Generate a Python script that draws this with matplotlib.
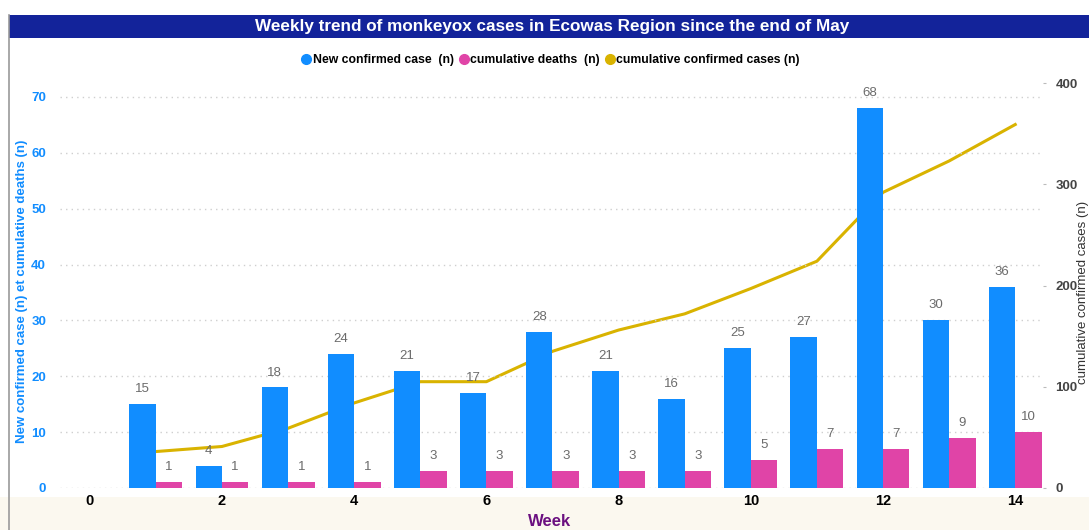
import matplotlib
matplotlib.use("Agg")
import matplotlib.pyplot as plt
import numpy as np
from matplotlib.lines import Line2D
from matplotlib.patches import Rectangle

weeks = list(range(1, 15))
new_cases = [15, 4, 18, 24, 21, 17, 28, 21, 16, 25, 27, 68, 30, 36]
cum_deaths = [1, 1, 1, 1, 3, 3, 3, 3, 3, 5, 7, 7, 9, 10]
cum_confirmed = [36, 41, 59, 84, 105, 105, 135, 156, 172, 197, 224, 292, 323, 359]
x_ticks = [0, 2, 4, 6, 8, 10, 12, 14]
left_ticks = [0, 10, 20, 30, 40, 50, 60, 70]
right_ticks = [0, 100, 200, 300, 400]

BLUE = "#118DFF"
PINK = "#E044A7"
GOLD = "#D9B300"
FONT = ["Liberation Sans", "DejaVu Sans"]
plt.rcParams["font.family"] = FONT

fig = plt.figure(figsize=(10.89, 5.30), dpi=100)
fig.patch.set_facecolor("white")

# bottom cream strip
fig.patches.append(Rectangle((0, 0), 1, 33 / 530, transform=fig.transFigure,
                             facecolor="#FBF8EF", edgecolor="none", zorder=0))
# left border line
fig.add_artist(Line2D([9 / 1089, 9 / 1089], [0, 1 - 15 / 530], transform=fig.transFigure,
                      color="#9a9a9a", lw=1.2))
# title bar
fig.patches.append(Rectangle((9 / 1089, 1 - 38 / 530), 1, 23 / 530, transform=fig.transFigure,
                             facecolor="#13239A", edgecolor="none", zorder=1))
fig.text(552 / 1089, 1 - 27 / 530, "Weekly trend of monkeyox cases in Ecowas Region since the end of May",
         color="white", fontsize=12.3, fontweight="bold", ha="center", va="center")

ax = fig.add_axes([60 / 1089, 42 / 530, 983 / 1089, 405 / 530])
ax2 = ax.twinx()

w = 0.4
xs = np.array(weeks)
ax.bar(xs - w / 2, new_cases, width=w, color=BLUE, zorder=2)
ax.bar(xs + w / 2, cum_deaths, width=w, color=PINK, zorder=2)

for x, v in zip(xs, new_cases):
    ax.text(x - w / 2, v + 1.6, str(v), ha="center", va="bottom", fontsize=9.5,
            color="#6b6b6b", zorder=5)
for x, v in zip(xs, cum_deaths):
    ax.text(x + w / 2, v + 1.6, str(v), ha="center", va="bottom", fontsize=9.5,
            color="#6b6b6b", zorder=5)

ax2.plot(xs, cum_confirmed, color=GOLD, lw=2.2, zorder=3)

ax.set_xlim(-0.45, 14.42)
ax.set_ylim(0, 72.5)
ax2.set_ylim(0, 400)
ax.set_yticks(left_ticks)
ax2.set_yticks(right_ticks)
ax.set_xticks(x_ticks)
ax.set_xticklabels([str(t) for t in x_ticks], fontsize=10.5, fontweight="bold", color="black")
ax.set_yticklabels([str(t) for t in left_ticks], fontsize=9.5, fontweight="bold", color=BLUE)
ax2.set_yticklabels([str(t) for t in right_ticks], fontsize=9.5, fontweight="bold", color="#444444")

ax.grid(axis="y", color="#cfcfcf", linestyle=(0, (1, 3)), lw=1, zorder=0)
ax.set_axisbelow(True)
for a in (ax, ax2):
    for s in a.spines.values():
        s.set_visible(False)
ax.tick_params(axis="y", length=0, pad=10)
ax.tick_params(axis="x", length=0, pad=4)
ax2.tick_params(axis="y", length=2, color="#bbbbbb", pad=7)

ax.set_zorder(ax2.get_zorder() + 1)
ax.patch.set_visible(False)

fig.text(22 / 1089, 1 - 291 / 530, "New confirmed case (n) et cumulative deaths (n)", color=BLUE,
         fontsize=9.5, fontweight="bold", rotation=90, ha="center", va="center")
fig.text(1083 / 1089, 1 - 292 / 530, "cumulative confirmed cases (n)", color="#333333",
         fontsize=9.5, rotation=90, ha="center", va="center")
fig.text(550 / 1089, 1 - 522 / 530, "Week", color="#6B1080", fontsize=12, fontweight="bold",
         ha="center", va="center")

# legend
handles = [
    Line2D([], [], marker="o", ls="none", color=BLUE, markersize=7, label="New confirmed case  (n)"),
    Line2D([], [], marker="o", ls="none", color=PINK, markersize=7, label="cumulative deaths  (n)"),
    Line2D([], [], marker="o", ls="none", color=GOLD, markersize=7, label="cumulative confirmed cases (n)"),
]
fig.legend(handles=handles, loc="center", bbox_to_anchor=(550 / 1089, 1 - 60 / 530), ncol=3,
           frameon=False, handletextpad=0.05, columnspacing=0.3, handlelength=1,
           prop={"size": 8.8, "weight": "bold"})

fig.savefig("out.png", dpi=100)
